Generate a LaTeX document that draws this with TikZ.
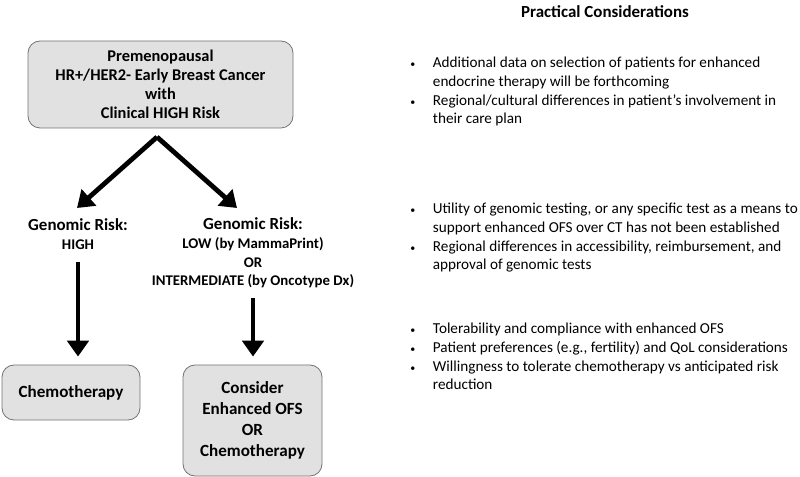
\documentclass[tikz,border=0pt]{standalone}
\usepackage{fontspec}
\setmainfont{Carlito}
\usetikzlibrary{arrows.meta,positioning}
\definecolor{boxfill}{RGB}{225,225,225}
\definecolor{boxline}{RGB}{115,115,115}
\newcommand{\pbul}{{\fontsize{7.5}{7.5}\selectfont\textbullet}}
\tikzset{
  box/.style={draw=boxline, fill=boxfill, line width=0.6pt, rounded corners=9pt, align=center, inner sep=0pt},
  bigarrow/.style={line width=3.6pt, -{Triangle[width=16pt,length=12pt]}},
  risk/.style={align=center, inner sep=0pt, font=\bfseries\fontsize{12.7}{14}\selectfont},
  bullets/.style={anchor=base west, inner sep=0pt, font=\fontsize{11.4}{13.9}\selectfont}
}

\begin{document}
\begin{tikzpicture}[x=0.75pt, y=-0.75pt]
\useasboundingbox (0,0) rectangle (800,477);

\node[box, minimum width=198.75pt, minimum height=65.25pt, font=\bfseries\fontsize{12.3}{14.3}\selectfont] (top) at (160.5,84.5)
  {Premenopausal\\HR+/HER2- Early Breast Cancer\\with\\Clinical HIGH Risk};

\coordinate (fork) at (157,137);
\coordinate (hitip) at (77,208);
\coordinate (lotip) at (237,208);

\node[risk] (hi) at (78,234) {Genomic Risk:\\{\fontsize{11.1}{13.8}\selectfont HIGH}};
\node[risk] (lo) at (253,253) {Genomic Risk:\\{\fontsize{11.1}{13.8}\selectfont LOW (by MammaPrint)}\\{\fontsize{11.1}{13.8}\selectfont OR}\\{\fontsize{11.1}{13.8}\selectfont INTERMEDIATE (by Oncotype Dx)}};

\node[box, minimum width=103.5pt, minimum height=41.25pt, font=\bfseries\fontsize{12.8}{14.3}\selectfont] (chemo) at (71,392.5) {Chemotherapy};
\node[box, minimum width=104.25pt, minimum height=83.25pt, font=\bfseries\fontsize{12.8}{15.6}\selectfont] (cons) at (252.5,420.5)
  {Consider\\Enhanced OFS\\OR\\Chemotherapy};

\draw[bigarrow] (fork) -- (hitip);
\draw[bigarrow] (fork) -- (lotip);
\draw[bigarrow, shorten <=9pt] (hi.south) -- ([yshift=6pt]hi.south |- chemo.north);
\draw[bigarrow, shorten <=7pt] (lo.south) -- ([yshift=6pt]lo.south |- cons.north);

\node[font=\bfseries\fontsize{12.7}{13}\selectfont, inner sep=0pt] (pc) at (605,12) {Practical Considerations};

\node[bullets] (pc1) at (410,68) {\begin{tabular}[t]{@{}p{17pt}@{}l@{}}
\pbul & Additional data on selection of patients for enhanced\\
 & endocrine therapy will be forthcoming\\
\pbul & Regional/cultural differences in patient’s involvement in\\
 & their care plan
\end{tabular}};
\node[bullets] (pc2) at (410,214) {\begin{tabular}[t]{@{}p{17pt}@{}l@{}}
\pbul & Utility of genomic testing, or any specific test as a means to\\
 & support enhanced OFS over CT has not been established\\
\pbul & Regional differences in accessibility, reimbursement, and\\
 & approval of genomic tests
\end{tabular}};
\node[bullets] (pc3) at (410,334) {\begin{tabular}[t]{@{}p{17pt}@{}l@{}}
\pbul & Tolerability and compliance with enhanced OFS\\
\pbul & Patient preferences (e.g., fertility) and QoL considerations\\
\pbul & Willingness to tolerate chemotherapy vs anticipated risk\\
 & reduction
\end{tabular}};
\end{tikzpicture}
\end{document}
